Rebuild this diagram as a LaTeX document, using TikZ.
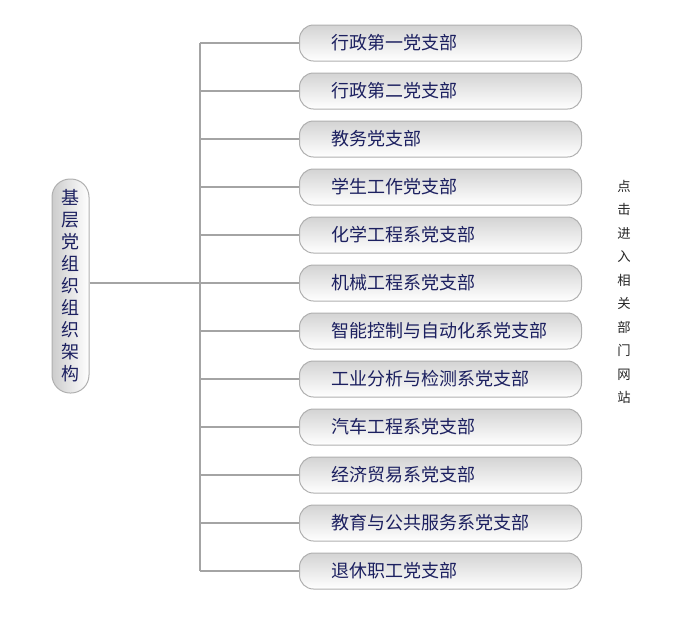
\documentclass[tikz,border=0pt]{standalone}
\usepackage{fontspec}
\setmainfont{Noto Sans CJK SC}
\usepackage{tikz}
\usetikzlibrary{positioning,shadings}
\definecolor{navy}{HTML}{1C2060}
\definecolor{linegray}{HTML}{A4A4A4}
\definecolor{boxgray}{HTML}{B0B0B0}
\tikzset{
  branch/.style={draw=boxgray, line width=0.75pt, rounded corners=10.5pt,
    top color=black!17, bottom color=white, text=navy,
    minimum width=211.5pt, minimum height=27pt, text width=163.5pt,
    inner xsep=24pt, align=left, font=\fontsize{13.5}{16}\selectfont},
  rootbox/.style={draw=boxgray, line width=0.75pt, rounded corners=13.5pt,
    left color=black!20, right color=white, text=navy,
    minimum width=27.75pt, minimum height=160.5pt, inner sep=0pt, align=center,
    font=\fontsize{13.5}{16.5}\selectfont},
  link/.style={draw=linegray, line width=1.5pt}
}
\begin{document}
\begin{tikzpicture}[x=0.75pt, y=-0.75pt]
  \useasboundingbox (0,0) rectangle (676,619);
  % left box
  \node[rootbox] (root) at (70.5,286) {基\\层\\党\\组\\织\\组\\织\\架\\构};
  % branches
  \coordinate (trunk) at (200,0);
  \foreach \name [count=\i] in {行政第一党支部, 行政第二党支部, 教务党支部,
      学生工作党支部, 化学工程系党支部, 机械工程系党支部,
      智能控制与自动化系党支部, 工业分析与检测系党支部, 汽车工程系党支部,
      经济贸易系党支部, 教育与公共服务系党支部, 退休职工党支部}
    \node[branch] (b\i) at (440.5, {43+48*(\i-1)}) {\name};
  \draw[link] (b1.west -| trunk) -- (b12.west -| trunk);
  \draw[link] (root.east |- b6) -- (b6.west -| trunk);
  \foreach \i in {1,...,12}
    \draw[link] (b\i.west -| trunk) -- (b\i.west);
  % side text
  \node[align=center, text=black!85, font=\fontsize{10}{17.6}\selectfont] (visit) at (624,292)
    {点\\击\\进\\入\\相\\关\\部\\门\\网\\站};
\end{tikzpicture}
\end{document}
